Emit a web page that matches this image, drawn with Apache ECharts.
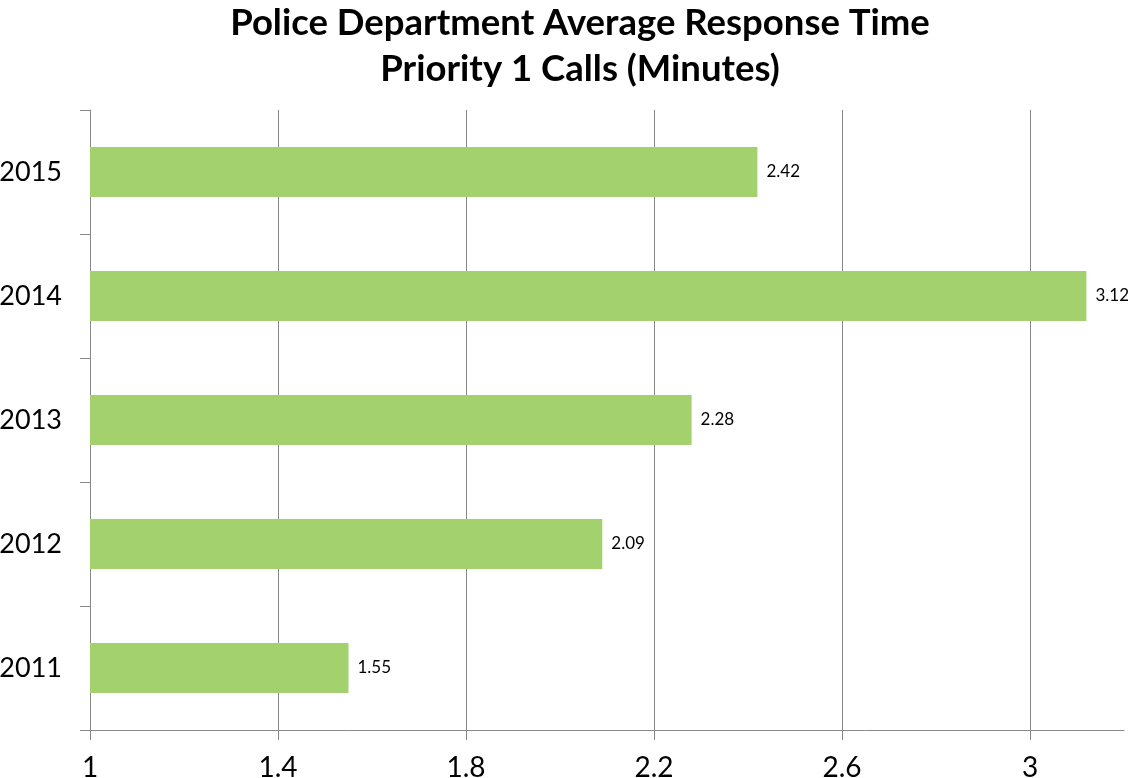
<!DOCTYPE html>
<html>
<head>
<meta charset="utf-8">
<script src="https://cdn.jsdelivr.net/npm/echarts@6/dist/echarts.min.js"></script>
<style>
html,body{margin:0;padding:0;background:#fff;}
#chart{width:1128px;height:778px;}
</style>
</head>
<body>
<div id="chart"></div>
<script>
const categories = ['2011', '2012', '2013', '2014', '2015'];
const responseTimes = [1.55, 2.09, 2.28, 3.12, 2.42];
const titleLines = ['Police Department Average Response Time', 'Priority 1 Calls (Minutes)'];

const chart = echarts.init(document.getElementById('chart'));
chart.setOption({
  animation: false,
  title: {
    text: titleLines.join('\n'),
    left: 575,
    textAlign: 'center',
    top: -5,
    textStyle: {
      fontFamily: 'Lato',
      fontWeight: 'bold',
      fontSize: 36.5,
      lineHeight: 46,
      color: '#000'
    }
  },
  grid: { left: 90, right: 4, top: 110, bottom: 48, outerBoundsMode: 'none', containLabel: false },
  xAxis: {
    type: 'value',
    min: 1,
    max: 3.2,
    interval: 0.4,
    axisLine: { show: true, lineStyle: { color: '#888', width: 1 } },
    axisTick: { show: true, length: 10, lineStyle: { color: '#888' } },
    axisLabel: {
      fontFamily: 'Lato',
      fontSize: 28,
      color: '#000',
      margin: 24,
      showMaxLabel: false,
      formatter: v => String(Math.round(v * 10) / 10)
    },
    splitLine: { show: true, showMaxLine: false, lineStyle: { color: '#888', width: 1 } }
  },
  yAxis: {
    type: 'category',
    data: categories,
    axisLine: { show: true, lineStyle: { color: '#888', width: 1 } },
    axisTick: { show: true, length: 10, lineStyle: { color: '#888' } },
    axisLabel: {
      fontFamily: 'Lato',
      fontSize: 27,
      color: '#000',
      margin: 28
    }
  },
  series: [{
    type: 'bar',
    data: responseTimes,
    barWidth: 50,
    itemStyle: { color: '#A3D16E' },
    label: {
      show: true,
      position: 'right',
      distance: 9,
      fontFamily: 'Lato',
      fontSize: 17,
      color: '#000'
    }
  }]
});
</script>
</body>
</html>
